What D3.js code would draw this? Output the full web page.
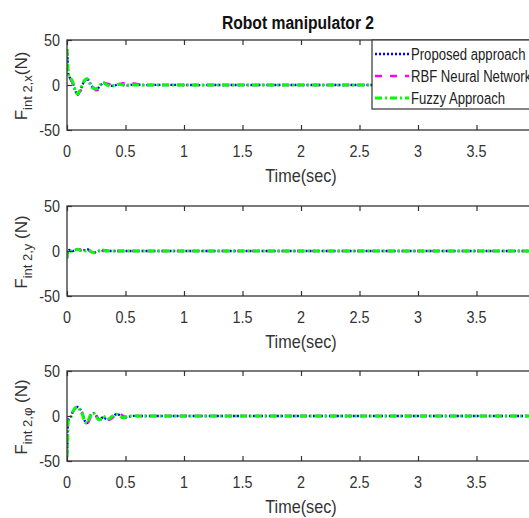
<!DOCTYPE html>
<html>
<head>
<meta charset="utf-8">
<script src="https://cdn.jsdelivr.net/npm/d3@7"></script>
<style>
  body { margin: 0; background: #fff; }
  svg { display: block; }
  text { font-family: "Liberation Sans", Arial, sans-serif; fill: #333; }
</style>
</head>
<body>
<div id="chart"></div>
<script>
"use strict"

// time axis (s)
const timeSec = [0, 0.005, 0.015, 0.03, 0.05, 0.07, 0.09, 0.11, 0.13, 0.15, 0.17, 0.19, 0.21, 0.23, 0.25, 0.27, 0.29, 0.31, 0.33, 0.36, 0.39, 0.42, 0.45, 0.48, 0.52, 0.56, 0.6, 0.65, 0.7, 0.8, 1.0, 1.5, 2.0, 2.5, 3.0, 3.5, 4.0];

// F_int 2,x
const xProposed = [40, 28, 10, 7, 2, -6, -11, -7, -1, 5, 7, 4, -1, -4, -5, -3, 0, 2.5, 2, 0, -1, 0, 1, 0, -0.5, 0.5, 0.5, 0, 0, 0.2, 0, 0, 0, 0, 0, 0, 0];
const xRbf      = [40, 27, 10, 6, 1, -5, -9, -8, -2, 4, 7, 5, 0, -3, -6, -5, -2, 1, 2, 1, -1, -1, 1, 2, 1, 2, 1, 0, 0, 0, 0, 0, 0, 0, 0, 0, 0];
const xFuzzy    = [40, 26, 11, 8, 3, -6, -10, -6, 0, 5, 7, 3, -2, -4, -4, -2, 1, 3, 1, -1, -1, 0, 1, 0, 0, 0, 0, 0, 0, 0, 0, 0, 0, 0, 0, 0, 0];

// F_int 2,y
const yProposed = [-8, -2, 1, 1, 0, 1, 2, 1, 0, 1, 2, 1, -1, -2, -1, 0, 1, 0, 0, 0, 0, 0, 0, 0, 0, 0, 0, 0, 0, 0, 0, 0, 0, 0, 0, 0, 0];
const yRbf      = [-8, -2, 1, 1, 0, 1, 2, 2, 0, 1, 2, 0, -1, -2, -2, 0, 0, 0, 1, 0, 0, 0, 0, 0, 0, 0, 0, 0, 0, 0, 0, 0, 0, 0, 0, 0, 0];
const yFuzzy    = [-8, -1, 1, 0, 0, 1, 2, 1, 0, 0, 1, 1, -1, -2, -1, 0, 0, 1, 0, 0, 0, 0, 0, 0, 0, 0, 0, 0, 0, 0, 0, 0, 0, 0, 0, 0, 0];

// F_int 2,phi
const phiProposed = [-45, -28, -3, -1, 5, 9, 10, 8, 3, -5, -8, -3, 2, 3, 0, -4, -3, -1, -3, -4, -1, 2, 1, -2, -1, 0, 0, 0, 0, 0, 0, 0, 0, 0, 0, 0, 0];
const phiRbf      = [-45, -27, -2, -1, 4, 8, 10, 9, 4, -4, -9, -5, 1, 3, 1, -3, -4, -2, -2, -4, -2, 2, 3, 0, -1, 0, 0, 0, 0, 0, 0, 0, 0, 0, 0, 0, 0];
const phiFuzzy    = [-45, -29, -4, -2, 5, 9, 10, 7, 2, -6, -8, -2, 3, 3, -1, -4, -3, 0, -3, -3, 0, 2, 0, -2, 0, 0, 0, 0, 0, 0, 0, 0, 0, 0, 0, 0, 0];

const seriesNames = ["Proposed approach", "RBF Neural Network", "Fuzzy Approach"];
const xTicks = [0, 0.5, 1, 1.5, 2, 2.5, 3, 3.5, 4];
const yTicks = [-50, 0, 50];
const panelSubs = ["2,x", "2,y", "2,\u03c6"];
const panelData = [
    [xProposed, xRbf, xFuzzy],
    [yProposed, yRbf, yFuzzy],
    [phiProposed, phiRbf, phiFuzzy]
];

const width = 529;
const height = 518;
const left = 67;
const right = 535;
const panelTops = [40, 206, 371];
const panelHeight = 90;
const axisColor = "#333";

const lineStyles = [
    { color: "#0000ff", width: 2.3, dash: "2,2" },
    { color: "#ff00ff", width: 2.3, dash: "7,8" },
    { color: "#00ff00", width: 3, dash: "7,3,2,3" }
];

const svg = d3.select("#chart").append("svg")
    .attr("width", width)
    .attr("height", height);

const x = d3.scaleLinear().domain([0, 4]).range([left, right]);

// condensed text: the reference font is narrow
function AddText(parent, tx, ty, str, size, sx, anchor)
{
    return parent.append("g")
        .attr("transform", `translate(${tx},${ty}) scale(${sx},1)`)
        .append("text")
        .attr("text-anchor", anchor || "start")
        .attr("font-size", size + "px")
        .text(str);
}

AddText(svg, 298, 29, "Robot manipulator 2", 18, 0.87, "middle")
    .attr("font-weight", "bold")
    .style("fill", "#111");

panelData.forEach((series, p) => {
    const top = panelTops[p];
    const bottom = top + panelHeight;
    const y = d3.scaleLinear().domain([-50, 50]).range([bottom, top]);
    const g = svg.append("g");

    const clipId = "clip" + p;
    svg.append("clipPath").attr("id", clipId)
        .append("rect")
        .attr("x", left).attr("y", top)
        .attr("width", right - left).attr("height", panelHeight);

    const line = d3.line()
        .x((d, i) => x(timeSec[i]))
        .y(d => y(d))
        .curve(d3.curveCatmullRom.alpha(0.5));

    const lines = g.append("g").attr("clip-path", `url(#${clipId})`);
    series.forEach((values, s) => {
        lines.append("path")
            .attr("d", line(values))
            .attr("fill", "none")
            .attr("stroke", lineStyles[s].color)
            .attr("stroke-width", lineStyles[s].width)
            .attr("stroke-dasharray", lineStyles[s].dash);
    });

    // box
    g.append("rect")
        .attr("x", left).attr("y", top)
        .attr("width", right - left).attr("height", panelHeight)
        .attr("fill", "none")
        .attr("stroke", axisColor)
        .attr("stroke-width", 1.3);

    // inward ticks, bottom and top
    const bottomAxis = d3.axisBottom(x).tickValues(xTicks).tickSize(-5).tickFormat("");
    const topAxis = d3.axisTop(x).tickValues(xTicks).tickSize(-5).tickFormat("");
    [[bottomAxis, bottom], [topAxis, top]].forEach(([ax, pos]) => {
        const a = g.append("g").attr("transform", `translate(0,${pos})`).call(ax);
        a.select(".domain").remove();
        a.selectAll("line").attr("stroke", axisColor).attr("stroke-width", 1.2);
    });
    const leftAxis = d3.axisLeft(y).tickValues(yTicks).tickSize(-5).tickFormat("");
    const la = g.append("g").attr("transform", `translate(${left},0)`).call(leftAxis);
    la.select(".domain").remove();
    la.selectAll("line").attr("stroke", axisColor).attr("stroke-width", 1.2);

    // tick labels (the last one falls outside the cropped picture)
    xTicks.filter(d => x(d) < width - 5).forEach(d => {
        AddText(g, x(d), bottom + 27, d, 16, 0.9, "middle");
    });
    yTicks.forEach(d => {
        AddText(g, left - 7, y(d), d, 16, 0.9, "end").attr("dy", "0.36em");
    });

    AddText(g, 301, bottom + 52, "Time(sec)", 18, 0.9, "middle");

    const ylab = g.append("text")
        .attr("transform", `translate(27,${top + panelHeight / 2 + 1}) rotate(-90)`)
        .attr("text-anchor", "middle")
        .attr("font-size", "17px");
    ylab.append("tspan").text("F");
    ylab.append("tspan").attr("dy", 5).attr("font-size", "13px").text("int " + panelSubs[p]);
    ylab.append("tspan").attr("dy", -5).text(p === 0 ? "(N)" : " (N)");

    // legend in first panel
    if(p === 0)
    {
        const lg = g.append("g");
        lg.append("rect")
            .attr("x", 372).attr("y", top)
            .attr("width", 200).attr("height", 69)
            .attr("fill", "#fff")
            .attr("stroke", axisColor)
            .attr("stroke-width", 1.2);
        const rowY = [54, 76, 98];
        seriesNames.forEach((name, s) => {
            lg.append("line")
                .attr("x1", 375).attr("x2", 409)
                .attr("y1", rowY[s]).attr("y2", rowY[s])
                .attr("stroke", lineStyles[s].color)
                .attr("stroke-width", lineStyles[s].width)
                .attr("stroke-dasharray", lineStyles[s].dash);
            AddText(lg, 411, rowY[s], name, 16, 0.82, "start")
                .attr("dy", "0.36em")
                .style("fill", "#222");
        });
    }
});
</script>
</body>
</html>
